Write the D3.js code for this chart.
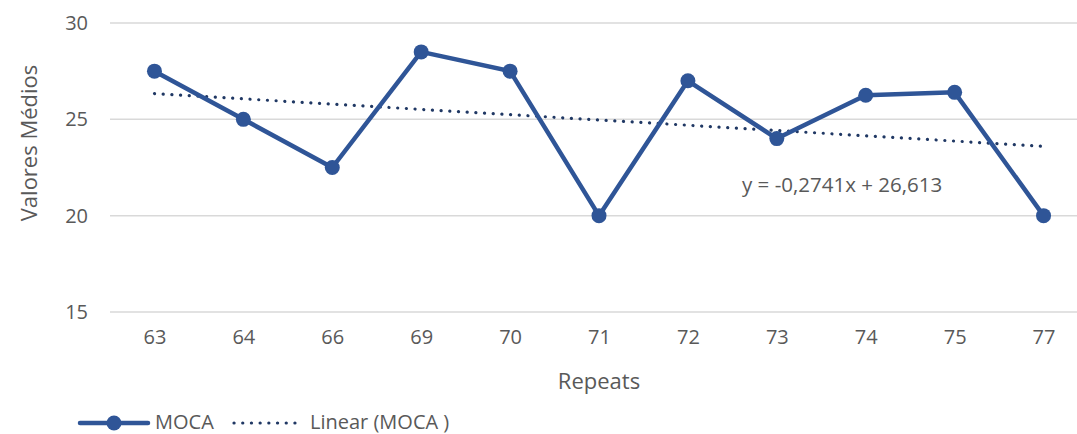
<!DOCTYPE html>
<html>
<head>
<meta charset="utf-8">
<script src="https://cdn.jsdelivr.net/npm/d3@7"></script>
<style>
  body { margin: 0; background: #fff; }
  svg text { font-family: "Open Sans", "Noto Sans", sans-serif; fill: #595959; }
</style>
</head>
<body>
<div id="chart"></div>
<script>
// dados
const categories = ["63", "64", "66", "69", "70", "71", "72", "73", "74", "75", "77"];
const mocaValues = [27.5, 25, 22.5, 28.5, 27.5, 20, 27, 24, 26.25, 26.4, 20];
const yTicks = [15, 20, 25, 30];
const equationLabel = "y = -0,2741x + 26,613";

const W = 1077, H = 434;
const svg = d3.select("#chart").append("svg")
    .attr("width", W).attr("height", H);

const x = d3.scalePoint().domain(categories).range([110, 1088]).padding(0.5);
const y = d3.scaleLinear().domain([15, 30]).range([312, 23]);

// grelha
svg.append("g").selectAll("line")
    .data(yTicks)
    .join("line")
    .attr("x1", 110).attr("x2", W)
    .attr("y1", d => y(d)).attr("y2", d => y(d))
    .attr("stroke", "#d9d9d9").attr("stroke-width", 1.5);

// eixo y
const yAxis = svg.append("g")
    .attr("transform", "translate(88,0)")
    .call(d3.axisLeft(y).tickValues(yTicks).tickSize(0).tickPadding(0));
yAxis.select(".domain").remove();
yAxis.selectAll("text").style("font-size", "20px").attr("fill", "#595959");

// eixo x
const xAxis = svg.append("g")
    .attr("transform", "translate(0,330)")
    .call(d3.axisBottom(x).tickSize(0).tickPadding(0));
xAxis.select(".domain").remove();
xAxis.selectAll("text").style("font-size", "20px").attr("fill", "#595959");

// títulos
svg.append("text")
    .attr("x", x(categories[5])).attr("y", 389)
    .attr("text-anchor", "middle")
    .style("font-size", "22px")
    .text("Repeats");

svg.append("text")
    .attr("transform", `translate(37,143) rotate(-90)`)
    .attr("text-anchor", "middle")
    .style("font-size", "22px")
    .text("Valores Médios");

// tendência linear (mínimos quadrados)
const idx = mocaValues.map((d, i) => i + 1);
const mx = d3.mean(idx), my = d3.mean(mocaValues);
const slope = d3.sum(idx, (d, i) => (d - mx) * (mocaValues[i] - my)) /
              d3.sum(idx, d => (d - mx) * (d - mx));
const intercept = my - slope * mx;

svg.append("line")
    .attr("x1", x(categories[0])).attr("x2", x(categories[categories.length - 1]))
    .attr("y1", y(intercept + slope * 1))
    .attr("y2", y(intercept + slope * categories.length))
    .attr("stroke", "#203864")
    .attr("stroke-width", 3.2)
    .attr("stroke-linecap", "round")
    .attr("stroke-dasharray", "0.1 8.6");

// série MOCA
const line = d3.line()
    .x((d, i) => x(categories[i]))
    .y(d => y(d));

svg.append("path")
    .datum(mocaValues)
    .attr("d", line)
    .attr("fill", "none")
    .attr("stroke", "#2f5597")
    .attr("stroke-width", 4.5)
    .attr("stroke-linejoin", "round");

svg.append("g").selectAll("circle")
    .data(mocaValues)
    .join("circle")
    .attr("cx", (d, i) => x(categories[i]))
    .attr("cy", d => y(d))
    .attr("r", 7.5)
    .attr("fill", "#2f5597");

// equação
svg.append("text")
    .attr("x", 742).attr("y", 192)
    .style("font-size", "20.5px")
    .text(equationLabel);

// legenda
const legend = svg.append("g").attr("transform", "translate(0,423)");
legend.append("line")
    .attr("x1", 80).attr("x2", 148)
    .attr("stroke", "#2f5597").attr("stroke-width", 4.5)
    .attr("stroke-linecap", "round");
legend.append("circle").attr("cx", 114).attr("r", 7.5).attr("fill", "#2f5597");
legend.append("text")
    .attr("x", 155).attr("y", 5.5)
    .style("font-size", "20px")
    .text("MOCA");
legend.append("line")
    .attr("x1", 234).attr("x2", 297)
    .attr("stroke", "#203864").attr("stroke-width", 3.2)
    .attr("stroke-linecap", "round")
    .attr("stroke-dasharray", "0.1 8.6");
legend.append("text")
    .attr("x", 310).attr("y", 5.5)
    .style("font-size", "20px")
    .text("Linear (MOCA )");
</script>
</body>
</html>
